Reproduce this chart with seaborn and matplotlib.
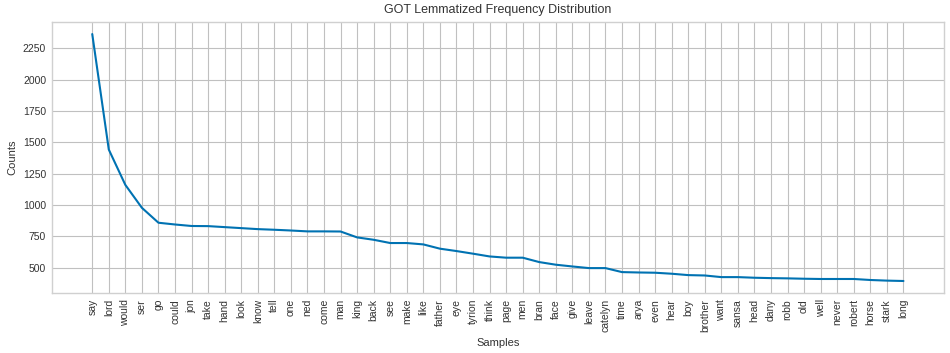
import numpy as np
import pandas as pd
import seaborn as sns
import matplotlib.pyplot as plt

words = ['say', 'lord', 'would', 'ser', 'go', 'could', 'jon', 'take', 'hand', 'look',
         'know', 'tell', 'one', 'ned', 'come', 'man', 'king', 'back', 'see', 'make',
         'like', 'father', 'eye', 'tyrion', 'think', 'page', 'men', 'bran', 'face', 'give',
         'leave', 'catelyn', 'time', 'arya', 'even', 'hear', 'boy', 'brother', 'want', 'sansa',
         'head', 'dany', 'robb', 'old', 'well', 'never', 'robert', 'horse', 'stark', 'long']
counts = [2365, 1443, 1161, 978, 859, 845, 833, 832, 824, 816,
          808, 803, 797, 790, 790, 789, 742, 723, 697, 697,
          686, 652, 633, 612, 590, 580, 580, 545, 524, 510,
          497, 497, 465, 462, 460, 452, 441, 438, 425, 425,
          420, 417, 415, 412, 410, 410, 410, 402, 397, 394]

sns.set_style("whitegrid", {"grid.color": "#c0c0c0", "axes.edgecolor": "#d0d0d0"})
plt.rcParams['font.family'] = ['Liberation Sans', 'DejaVu Sans']
plt.rcParams['text.color'] = '#333333'
plt.rcParams['axes.labelcolor'] = '#333333'
plt.rcParams['xtick.color'] = '#333333'
plt.rcParams['ytick.color'] = '#333333'

df = pd.DataFrame({'pos': np.arange(len(words)), 'count': counts})

fig, ax = plt.subplots(figsize=(9.5, 3.53), dpi=100)
fig.subplots_adjust(left=0.0544, right=0.9937, top=0.9385, bottom=0.169)

sns.lineplot(data=df, x='pos', y='count', color='#0072B2', linewidth=1.5, ax=ax)

ax.set_xticks(df['pos'])
ax.set_xticklabels(words, rotation=90, fontsize=7.5)
ax.set_yticks([500, 750, 1000, 1250, 1500, 1750, 2000, 2250])
ax.tick_params(axis='y', labelsize=7.5)
ax.tick_params(length=0, pad=4)
ax.set_xlabel('Samples', fontsize=8)
ax.set_ylabel('Counts', fontsize=8)
ax.set_title('GOT Lemmatized Frequency Distribution', fontsize=9)
ax.margins(x=0.05, y=0.05)
for s in ax.spines.values():
    s.set_linewidth(1.0)

fig.savefig('out.png', dpi=100)
